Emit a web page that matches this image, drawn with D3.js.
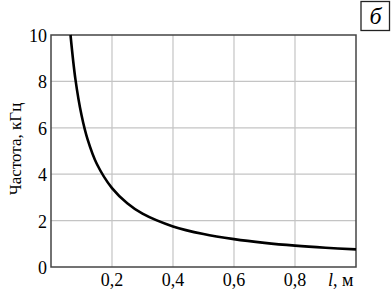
<!DOCTYPE html>
<html>
<head>
<meta charset="utf-8">
<script src="https://cdn.jsdelivr.net/npm/d3@7"></script>
<style>
  body { margin: 0; background: #fff; }
  text { font-family: "Liberation Serif", "DejaVu Serif", serif; }
</style>
</head>
<body>
<div id="canvas"></div>
<script>
  // values
  var lengths = [0.064, 0.08, 0.1, 0.12, 0.15, 0.2, 0.25, 0.3, 0.4, 0.5, 0.6, 0.7, 0.8, 0.9, 1.0];
  var freqs = [10, 8.1, 6.55, 5.5, 4.45, 3.4, 2.75, 2.3, 1.75, 1.42, 1.2, 1.04, 0.92, 0.83, 0.76];
  var xTicks = [0.2, 0.4, 0.6, 0.8];
  var yTicks = [0, 2, 4, 6, 8, 10];

  var width = 391, height = 289;
  var margin = { left: 51, right: 35, top: 35, bottom: 22 };

  var svg = d3.select('#canvas')
    .append('svg')
    .attr('width', width)
    .attr('height', height);

  var x = d3.scaleLinear().domain([0, 1]).range([margin.left, width - margin.right]);
  var y = d3.scaleLinear().domain([0, 10]).range([height - margin.bottom, margin.top]);

  // grid
  svg.append('g')
    .selectAll('line')
    .data(xTicks)
    .enter()
    .append('line')
    .attr('x1', function (d) { return x(d); })
    .attr('x2', function (d) { return x(d); })
    .attr('y1', y(0))
    .attr('y2', y(10))
    .attr('stroke', '#c4c4c4')
    .attr('stroke-width', 1.2);

  svg.append('g')
    .selectAll('line')
    .data(yTicks.slice(1, -1))
    .enter()
    .append('line')
    .attr('y1', function (d) { return y(d); })
    .attr('y2', function (d) { return y(d); })
    .attr('x1', x(0))
    .attr('x2', x(1))
    .attr('stroke', '#c4c4c4')
    .attr('stroke-width', 1.2);

  // frame
  svg.append('rect')
    .attr('x', x(0))
    .attr('y', y(10))
    .attr('width', x(1) - x(0))
    .attr('height', y(0) - y(10))
    .attr('fill', 'none')
    .attr('stroke', '#444')
    .attr('stroke-width', 1.5);

  // curve
  var pts = lengths.map(function (l, i) { return [l, freqs[i]]; });
  svg.append('path')
    .datum(pts)
    .attr('d', d3.line()
      .x(function (d) { return x(d[0]); })
      .y(function (d) { return y(d[1]); })
      .curve(d3.curveCatmullRom.alpha(0.5)))
    .attr('fill', 'none')
    .attr('stroke', '#000')
    .attr('stroke-width', 2.6);

  // tick labels
  var fmt = function (d) { return String(d).replace('.', ','); };
  svg.append('g')
    .selectAll('text')
    .data(xTicks)
    .enter()
    .append('text')
    .attr('x', function (d) { return x(d); })
    .attr('y', 286)
    .attr('text-anchor', 'middle')
    .style('font-size', '18px')
    .text(fmt);

  svg.append('g')
    .selectAll('text')
    .data(yTicks)
    .enter()
    .append('text')
    .attr('x', 47)
    .attr('y', function (d) { return y(d) + 7; })
    .attr('text-anchor', 'end')
    .style('font-size', '18px')
    .text(fmt);

  // axis titles
  var xLabel = svg.append('text')
    .attr('x', 328)
    .attr('y', 286)
    .style('font-size', '18px');
  xLabel.append('tspan').style('font-style', 'italic').text('l');
  xLabel.append('tspan').text(', м');

  svg.append('text')
    .attr('transform', 'translate(21, 149) rotate(-90)')
    .attr('text-anchor', 'middle')
    .style('font-size', '17px')
    .text('Частота, кГц');

  // panel letter
  svg.append('rect')
    .attr('x', 361)
    .attr('y', 1.5)
    .attr('width', 28.5)
    .attr('height', 29)
    .attr('fill', 'none')
    .attr('stroke', '#222')
    .attr('stroke-width', 1.3);

  svg.append('text')
    .attr('x', 375.5)
    .attr('y', 24)
    .attr('text-anchor', 'middle')
    .style('font-size', '24px')
    .style('font-style', 'italic')
    .text('б');
</script>
</body>
</html>
